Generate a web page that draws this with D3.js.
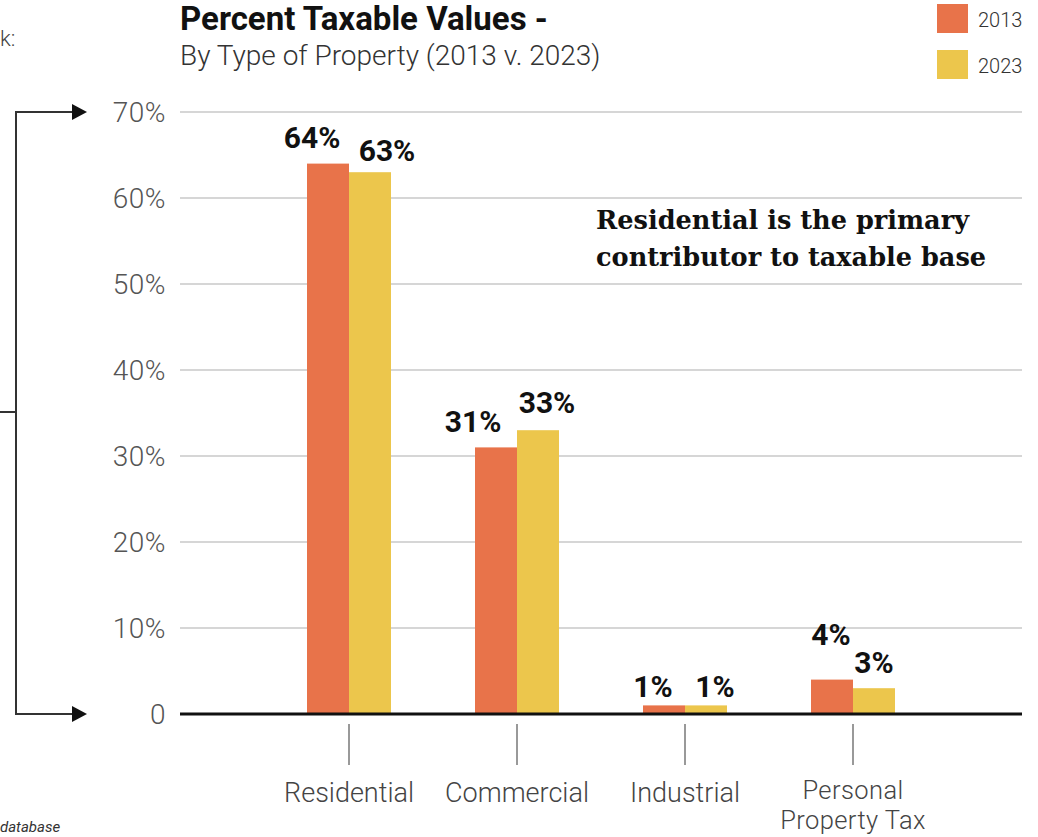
<!DOCTYPE html>
<html lang="en">
<head>
  <meta charset="UTF-8">
  <title>Percent Taxable Values</title>
  <script src="https://d3js.org/d3.v7.min.js"></script>
  <style>
    body { margin: 0; padding: 0; background: #fff; overflow: hidden; }
    svg { display: block; font-family: Roboto, "Open Sans", sans-serif; }
    .grid line { stroke: #c8c8c8; stroke-width: 1.5px; }
    .tick-label { fill: #555; font-weight: 300; font-size: 28px; letter-spacing: 0.5px; }
    .cat-label { fill: #444; font-weight: 300; font-size: 27px; }
    .cat-label.two { font-size: 25.5px; letter-spacing: 0.4px; }
    .value { fill: #111; font-weight: 700; font-size: 30px; }
  </style>
</head>
<body>
  <svg id="chart" width="1038" height="837"></svg>

  <script>
    // —— data ——
    const categories = ["Residential", "Commercial", "Industrial", "Personal Property Tax"];
    const years = ["2013", "2023"];
    const values2013 = [64, 31, 1, 4];
    const values2023 = [63, 33, 1, 3];
    const yTicks = [0, 10, 20, 30, 40, 50, 60, 70];
    const colors = ["#e8734a", "#ecc64c"];

    const svg = d3.select("#chart");
    const x0 = 180, x1 = 1022, yTop = 112, yBase = 714;

    const y = d3.scaleLinear().domain([0, 70]).range([yBase, yTop]);
    const x = d3.scaleBand().domain(categories).range([265, 937])
      .paddingInner(0.5).paddingOuter(0.25);
    const xs = d3.scaleBand().domain(years).range([0, x.bandwidth()]);

    // —— left bracket (cropped from a larger layout) ——
    const br = svg.append("g").attr("stroke", "#333").attr("stroke-width", 2).attr("fill", "none");
    br.append("path").attr("d", `M74,${yTop} H16 V${yBase} H74`);
    br.append("line").attr("x1", 0).attr("x2", 16).attr("y1", 412).attr("y2", 412);
    [yTop, yBase].forEach(yy => {
      svg.append("path").attr("d", `M72,${yy - 8} L87,${yy} L72,${yy + 8} Z`).attr("fill", "#111");
    });
    svg.append("text").attr("x", 0).attr("y", 46).attr("font-size", 22).attr("font-weight", 300)
      .attr("fill", "#444").text("k:");
    svg.append("text").attr("x", 0).attr("y", 832).attr("font-size", 15).attr("font-style", "italic")
      .attr("fill", "#333").text("database");

    // —— gridlines + y labels ——
    svg.append("g").attr("class", "grid").selectAll("line")
      .data(yTicks.filter(d => d > 0)).join("line")
      .attr("x1", x0).attr("x2", x1)
      .attr("y1", d => y(d)).attr("y2", d => y(d));

    svg.append("g").selectAll("text").data(yTicks).join("text")
      .attr("class", "tick-label")
      .attr("x", 166).attr("y", d => y(d) + 10)
      .attr("text-anchor", "end")
      .text(d => d === 0 ? "0" : d + "%");

    // —— bars ——
    const rows = categories.map((c, i) => ({ cat: c, vals: [values2013[i], values2023[i]] }));
    const groups = svg.append("g").selectAll("g").data(rows).join("g")
      .attr("transform", d => `translate(${x(d.cat)},0)`);

    groups.selectAll("rect").data(d => d.vals.map((v, j) => ({ year: years[j], v, j })))
      .join("rect")
      .attr("x", d => xs(d.year))
      .attr("width", xs.bandwidth())
      .attr("y", d => y(d.v))
      .attr("height", d => yBase - y(d.v))
      .attr("fill", d => colors[d.j]);

    // label nudges (layout only)
    const nudge = {
      "Residential": [[-16, -16], [17, -11]],
      "Commercial": [[-23, -15], [9, -17]],
      "Industrial": [[-11, -8], [9, -8]],
      "Personal Property Tax": [[-1, -35], [0, -15]]
    };
    groups.selectAll("text.value").data(d => d.vals.map((v, j) => ({ cat: d.cat, year: years[j], v, j })))
      .join("text")
      .attr("class", "value")
      .attr("text-anchor", "middle")
      .attr("x", d => xs(d.year) + xs.bandwidth() / 2 + nudge[d.cat][d.j][0])
      .attr("y", d => y(d.v) + nudge[d.cat][d.j][1])
      .text(d => d.v + "%");

    // baseline
    svg.append("line").attr("x1", x0).attr("x2", x1).attr("y1", yBase).attr("y2", yBase)
      .attr("stroke", "#111").attr("stroke-width", 3);

    // —— category ticks + labels ——
    const cats = svg.append("g").selectAll("g").data(categories).join("g")
      .attr("transform", d => `translate(${x(d) + x.bandwidth() / 2},0)`);
    cats.append("line").attr("y1", 724).attr("y2", 765)
      .attr("stroke", "#777").attr("stroke-width", 1.5);
    cats.each(function (d) {
      const two = d === "Personal Property Tax";
      const words = two ? ["Personal", "Property Tax"] : [d];
      d3.select(this).selectAll("text").data(words).join("text")
        .attr("class", two ? "cat-label two" : "cat-label")
        .attr("text-anchor", "middle")
        .attr("y", (w, i) => (two ? 799 : 802) + i * 30)
        .text(w => w);
    });

    // —— titles ——
    svg.append("text").attr("x", 180).attr("y", 30)
      .attr("font-size", 33).attr("font-weight", 700).attr("fill", "#111")
      .text("Percent Taxable Values -");
    svg.append("text").attr("x", 180).attr("y", 65)
      .attr("font-size", 28).attr("font-weight", 300).attr("fill", "#333")
      .text("By Type of Property (2013 v. 2023)");

    // —— annotation ——
    const note = svg.append("text").attr("font-family", "'DejaVu Serif', serif")
      .attr("font-weight", 700).attr("font-size", 25.6).attr("fill", "#111");
    note.append("tspan").attr("x", 596).attr("y", 229).text("Residential is the primary");
    note.append("tspan").attr("x", 596).attr("y", 266).text("contributor to taxable base");

    // —— legend ——
    const leg = svg.append("g").selectAll("g").data(years).join("g")
      .attr("transform", (d, i) => `translate(937,${4 + i * 46})`);
    leg.append("rect").attr("width", 31).attr("height", 29).attr("fill", (d, i) => colors[i]);
    leg.append("text").attr("x", 41).attr("y", 23)
      .attr("font-size", 20).attr("font-weight", 300).attr("fill", "#333").text(d => d);
  </script>
</body>
</html>
